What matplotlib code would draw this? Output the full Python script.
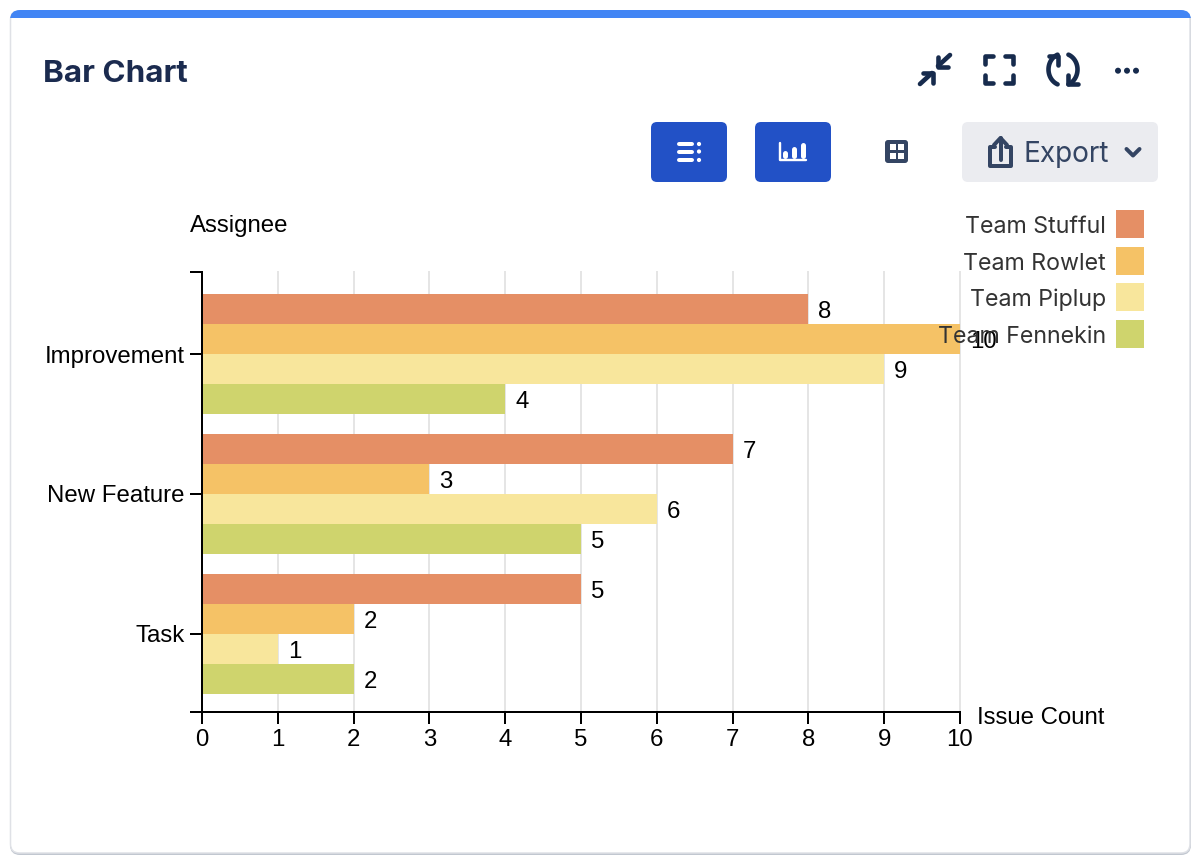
"""
Bar chart card: grouped horizontal bars plus the dashboard toolbar around them.
"""
import numpy as np
import matplotlib
matplotlib.use('Agg')
import matplotlib.pyplot as plt
from matplotlib.patches import FancyBboxPatch, Rectangle, Circle

W, H = 1201, 864

categories = ["Improvement", "New Feature", "Task"]
teams = ["Team Stufful", "Team Rowlet", "Team Piplup", "Team Fennekin"]
stufful = [8, 7, 5]
rowlet = [10, 3, 2]
piplup = [9, 6, 1]
fennekin = [4, 5, 2]
x_ticks = [0, 1, 2, 3, 4, 5, 6, 7, 8, 9, 10]

colors = ["#E58F65", "#F5C266", "#F8E69C", "#CFD46D"]
NAVY = "#172B4D"
SLATE = "#344563"
BLUE = "#2251C6"


def px(n):
    # pixels -> points at dpi 100
    return n * 0.72


fig = plt.figure(figsize=(W / 100, H / 100), dpi=100, facecolor="white")


def pixel_axes(z):
    a = fig.add_axes([0, 0, 1, 1], zorder=z)
    a.set_xlim(0, W)
    a.set_ylim(H, 0)
    a.axis("off")
    a.patch.set_alpha(0)
    return a


bg = pixel_axes(0)
fg = pixel_axes(2)


def stroke(points, lw=4.6, color=NAVY, a=bg):
    xs, ys = zip(*points)
    a.plot(xs, ys, color=color, lw=px(lw), solid_capstyle="round",
           solid_joinstyle="round")


def round_box(x0, y0, x1, y1, r, color, **kw):
    p = FancyBboxPatch((x0 + r, y0 + r), x1 - x0 - 2 * r, y1 - y0 - 2 * r,
                       boxstyle=f"round,pad={r},rounding_size={r}",
                       facecolor=color, **kw)
    bg.add_patch(p)
    return p


# ── Card ──────────────────────────────────────────────────────────────────────
round_box(10, 11, 1191, 855, 10, "#C1C7D0", edgecolor="none")
round_box(10.5, 11, 1190, 853, 9, "white", edgecolor="#DFE1E6", linewidth=px(1.5))
top = round_box(10, 10, 1191, 40, 10, "#4285F4", edgecolor="none")
top.set_clip_path(Rectangle((0, 10), W, 8, transform=bg.transData))

bg.text(43, 71, "Bar Chart", family="Inter", fontsize=px(31.4), fontweight="bold",
        color="#1B2B4F", ha="left", va="center_baseline")

# ── Top right icons ───────────────────────────────────────────────────────────
stroke([(920, 84), (932, 73)])
stroke([(923, 73), (933, 73), (933, 83)])
stroke([(950, 55), (938, 66)])
stroke([(938, 57), (938, 67), (948, 67)])

for (cx, sx), (cy, sy) in [((985, 1), (56, 1)), ((1013, -1), (56, 1)),
                           ((985, 1), (83, -1)), ((1013, -1), (83, -1))]:
    stroke([(cx, cy + 8 * sy), (cx, cy), (cx + 8 * sx, cy)])

t = np.radians(np.linspace(112, 248, 30))
stroke(list(zip(1063 + 14.5 * np.cos(t), 69.5 - 16 * np.sin(t))))
stroke(list(zip(1063 - 14.5 * np.cos(t), 69.5 + 16 * np.sin(t))))
stroke([(1049, 56), (1058, 56), (1058, 65)])
stroke([(1068, 75), (1068, 84), (1078, 84)])

for x in [1118, 1127, 1136]:
    bg.add_patch(Circle((x, 70.7), 3, color=NAVY, lw=0))

# ── Toolbar ───────────────────────────────────────────────────────────────────
round_box(651, 122, 727, 182, 6, BLUE, edgecolor="none")
round_box(755, 122, 831, 182, 6, BLUE, edgecolor="none")
round_box(962, 122, 1158, 182, 6, "#EBECF0", edgecolor="none")

for y in [144, 151.5, 160]:
    stroke([(679, y), (692, y)], lw=4, color="white")
    bg.add_patch(Circle((699, y), 2.1, color="white", lw=0))

stroke([(780, 143), (780, 160), (806, 160)], lw=2.4, color="white")
for x, y in [(785, 153), (794, 149), (802.5, 145)]:
    stroke([(x, y), (x, 155.5)], lw=5, color="white")

round_box(885, 140, 908, 163, 3, SLATE, edgecolor="none")
for x in [889.5, 898.3]:
    for y in [143.6, 153]:
        bg.add_patch(Rectangle((x, y), 6, 6.3, color="white", lw=0))

stroke([(995, 147), (990, 147), (990, 166), (1011, 166), (1011, 147), (1006, 147)],
       lw=4, color=SLATE)
stroke([(1000.5, 160), (1000.5, 138)], lw=4, color=SLATE)
stroke([(994, 145), (1000.5, 138), (1007, 145)], lw=4, color=SLATE)
bg.text(1024, 152, "Export", family="Inter", fontsize=px(28), color=SLATE,
        ha="left", va="center_baseline")
stroke([(1126.5, 149), (1133, 155.5), (1139.5, 149)], lw=4, color=SLATE)

# ── Chart ─────────────────────────────────────────────────────────────────────
X0, X1, Y_TOP, Y_BOT = 202, 960, 272, 712
ax = fig.add_axes([X0 / W, 1 - Y_BOT / H, (X1 - X0) / W, (Y_BOT - Y_TOP) / H], zorder=1)
ax.patch.set_alpha(0)

BAND = 140
BAR_H = 30 / BAND
y_pos = np.arange(len(categories))
series = [stufful, rowlet, piplup, fennekin]

for i, vals in enumerate(series):
    offs = y_pos + (i - 1.5) * BAR_H
    bars = ax.barh(offs, vals, height=BAR_H, color=colors[i], zorder=2, linewidth=0)
    for b, v in zip(bars, vals):
        ax.annotate(str(v), (v, b.get_y() + BAR_H / 2), xytext=(px(10), 0),
                    textcoords="offset points", ha="left", va="center_baseline",
                    family="Liberation Sans", fontsize=px(24), color="black",
                    zorder=5, annotation_clip=False)

y_lo, y_hi = 2 + 78 / BAND, -82 / BAND
ax.set_xlim(x_ticks[0], x_ticks[-1])
ax.set_ylim(y_lo, y_hi)

ax.set_xticks(x_ticks)
ax.set_yticks(y_pos)
ax.set_yticklabels(categories)
ax.set_yticks([y_lo, y_hi], minor=True)
ax.tick_params(axis="both", which="both", length=px(12), width=px(2), color="black",
               labelsize=px(24), labelcolor="black")
ax.tick_params(axis="y", pad=px(5.5))
ax.tick_params(axis="x", pad=px(5))
for lab in ax.get_xticklabels() + ax.get_yticklabels():
    lab.set_family("Liberation Sans")

ax.grid(axis="x", color="#E5E5E5", lw=px(2), zorder=0, clip_on=False)
ax.set_axisbelow(True)
for side in ["top", "right"]:
    ax.spines[side].set_visible(False)
for side in ["left", "bottom"]:
    ax.spines[side].set_linewidth(px(2))
    ax.spines[side].set_color("black")

# ── Axis names and legend (drawn over the bars) ───────────────────────────────
fg.text(190, 223.5, "Assignee", family="Liberation Sans", fontsize=px(24),
        color="black", ha="left", va="center_baseline")
fg.text(977, 716, "Issue Count", family="Liberation Sans", fontsize=px(24),
        color="black", ha="left", va="center_baseline")

legend_y = [224, 261, 297, 334]
for name, c, y in zip(teams, colors, legend_y):
    fg.add_patch(Rectangle((1116, y - 14), 28, 28, facecolor=c, lw=0))
    fg.text(1106, y + 0.5, name, family="Inter", fontsize=px(23.2), color="#333333",
            ha="right", va="center_baseline")

fig.savefig("out.png", dpi=100, facecolor="white")
plt.close(fig)
